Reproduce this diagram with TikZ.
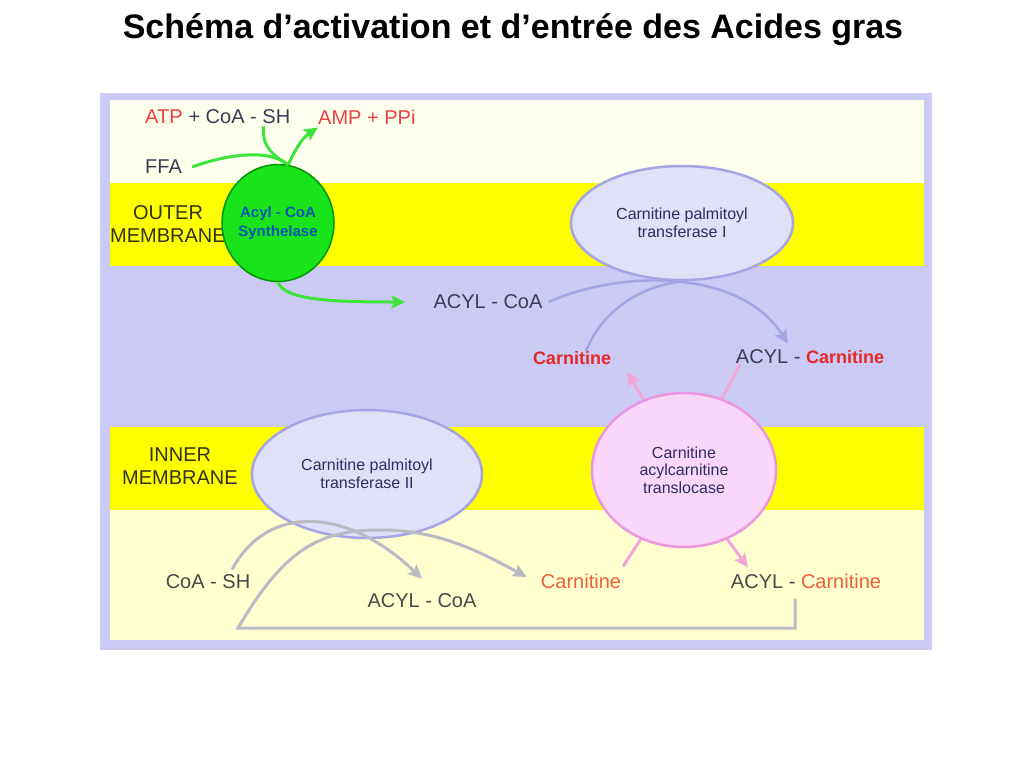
\documentclass[tikz,border=0pt]{standalone}
\usepackage{fontspec}
\setmainfont{Liberation Sans}
\usetikzlibrary{positioning, arrows.meta, shapes.geometric}

\definecolor{lav}{RGB}{202,202,244}
\definecolor{topband}{RGB}{255,255,238}
\definecolor{lowband}{RGB}{255,255,208}
\definecolor{yel}{RGB}{255,255,0}
\definecolor{grnfill}{RGB}{25,228,25}
\definecolor{grnline}{RGB}{0,150,0}
\definecolor{arrgreen}{RGB}{60,228,60}
\definecolor{synblue}{RGB}{0,85,175}
\definecolor{enzfill}{RGB}{224,224,248}
\definecolor{enzline}{RGB}{165,165,228}
\definecolor{enztext}{RGB}{45,45,95}
\definecolor{pnkfill}{RGB}{250,215,250}
\definecolor{pnkline}{RGB}{236,150,226}
\definecolor{arrpink}{RGB}{242,165,215}
\definecolor{arrgray}{RGB}{186,186,196}
\definecolor{txtdark}{RGB}{60,60,88}
\definecolor{txtgray}{RGB}{72,72,72}
\definecolor{txtolive}{RGB}{50,50,20}
\definecolor{txtred}{RGB}{236,64,64}
\definecolor{carnred}{RGB}{230,40,40}
\definecolor{carnorange}{RGB}{236,96,56}

\begin{document}
\begin{tikzpicture}[x=1pt,y=-1pt,
    lbl/.style={font=\fontsize{20}{23}\selectfont, text=txtdark, inner sep=0pt},
    enz/.style={ellipse, draw=enzline, fill=enzfill, line width=2.5pt, inner sep=0pt,
        align=center, text=enztext, font=\fontsize{16}{17.5}\selectfont},
    synth/.style={ellipse, draw=grnline, fill=grnfill, line width=1.5pt, inner sep=0pt,
        align=center, text=synblue, font=\bfseries\fontsize{15}{19}\selectfont},
    grn/.style={draw=arrgreen, line width=3pt},
    lvd/.style={draw=enzline, line width=2.5pt},
    pnk/.style={draw=arrpink, line width=3pt},
    gry/.style={draw=arrgray, line width=3pt},
    tip/.style={-{Stealth[length=14pt,width=13pt,inset=3pt]}}]
    \useasboundingbox (0,0) rectangle (1024,768);

    % title
    \node[font=\bfseries\fontsize{34}{40}\selectfont] (title) at (513,30)
        {Schéma d’activation et d’entrée des Acides gras};

    % bands
    \fill[lav] (100,93) rectangle (932,650);
    \fill[topband] (110,100) rectangle (924,183);
    \fill[lowband] (110,509) rectangle (924,640);
    \foreach \y in {183,427}{
        \fill[yel] (110,\y) rectangle (924,\y+83);
    }

    % outside
    \node[lbl, anchor=west, text=txtred] (atp) at (145,117) {ATP};
    \node[lbl, base right=5.5pt of atp] (coash1) {+ CoA - SH};
    \node[lbl, anchor=west, text=txtred] (amp) at (318,117) {AMP + PPi};
    \node[lbl, anchor=west] (ffa) at (145,167) {FFA};
    \node[lbl, align=center, text=txtolive] (outer) at (168,224) {OUTER\\MEMBRANE};
    \node[synth, minimum width=94pt, minimum height=117pt] (syn) at (278,223)
        {Acyl - CoA\\Synthelase};

    \draw[grn] ([xshift=-27pt,yshift=-2pt]coash1.south east)
        .. controls (262,148) and (274,156) .. (syn.80);
    \draw[grn] ([xshift=10pt]ffa.east) .. controls (225,155) and (268,148) .. (syn.80);
    \draw[grn, tip] (syn.80) .. controls (295,150) and (302,138) .. ([yshift=-3pt]amp.south west);

    % intermembrane space
    \node[lbl] (acylcoa1) at (488,302) {ACYL - CoA};
    \node[enz, minimum width=222pt, minimum height=114pt] (cpt1) at (682,223)
        {Carnitine palmitoyl\\transferase I};
    \node[lbl, font=\bfseries\fontsize{18}{22}\selectfont, text=carnred] (carn1) at (572,358) {Carnitine};
    \node[lbl] (acylcarn1) at (810,357) {ACYL - \textcolor{carnred}{\bfseries\fontsize{18}{22}\selectfont Carnitine}};

    \draw[grn, tip] (syn.south) .. controls (285,300) and (330,302) .. ([xshift=-28pt]acylcoa1.west);
    \draw[lvd, tip] ([xshift=6pt]acylcoa1.east) .. controls (620,270) and (740,268) .. ([xshift=-22pt,yshift=6pt]acylcarn1.north);
    \draw[lvd] ([xshift=14pt]carn1.north) .. controls (600,315) and (635,287) .. (cpt1.south);

    % inner membrane
    \node[lbl, align=center, text=txtolive] (inner) at (180,466) {INNER\\MEMBRANE};
    \node[enz, minimum width=230pt, minimum height=128pt] (cpt2) at (367,474)
        {Carnitine palmitoyl\\transferase II};
    \node[enz, draw=pnkline, fill=pnkfill, minimum width=184pt, minimum height=154pt] (trans) at (684,470)
        {Carnitine\\acylcarnitine\\translocase};

    \draw[pnk, tip] (trans.120) -- ([xshift=16pt,yshift=-7pt]carn1.south east);
    \draw[pnk] (trans.62) -- ([xshift=-70pt]acylcarn1.south);

    % matrix
    \node[lbl, text=txtgray] (coash2) at (208,582) {CoA - SH};
    \node[lbl, text=txtgray] (acylcoa2) at (422,601) {ACYL - CoA};
    \node[lbl, text=carnorange] (carn2) at (581,581) {Carnitine};
    \node[lbl, text=txtgray] (acylcarn2) at (806,581) {ACYL - \textcolor{carnorange}{Carnitine}};
    \coordinate (loopcorner) at (238,628);

    \draw[pnk] (trans.238) -- ([xshift=42pt,yshift=7pt]carn2.north);
    \draw[pnk, tip] (trans.302) -- ([xshift=-58pt,yshift=6pt]acylcarn2.north);

    \draw[gry, tip] ([xshift=24pt,yshift=5pt]coash2.north) .. controls (266,505) and (345,505)
        .. ([yshift=15pt]acylcoa2.north);
    \draw[gry, tip] ([xshift=-11pt,yshift=-10pt]acylcarn2.south) |- (loopcorner)
        .. controls (285,548) and (320,530) .. (380,530)
        .. controls (440,530) and (480,552) .. ([xshift=-14pt,yshift=4pt]carn2.west);
\end{tikzpicture}
\end{document}
